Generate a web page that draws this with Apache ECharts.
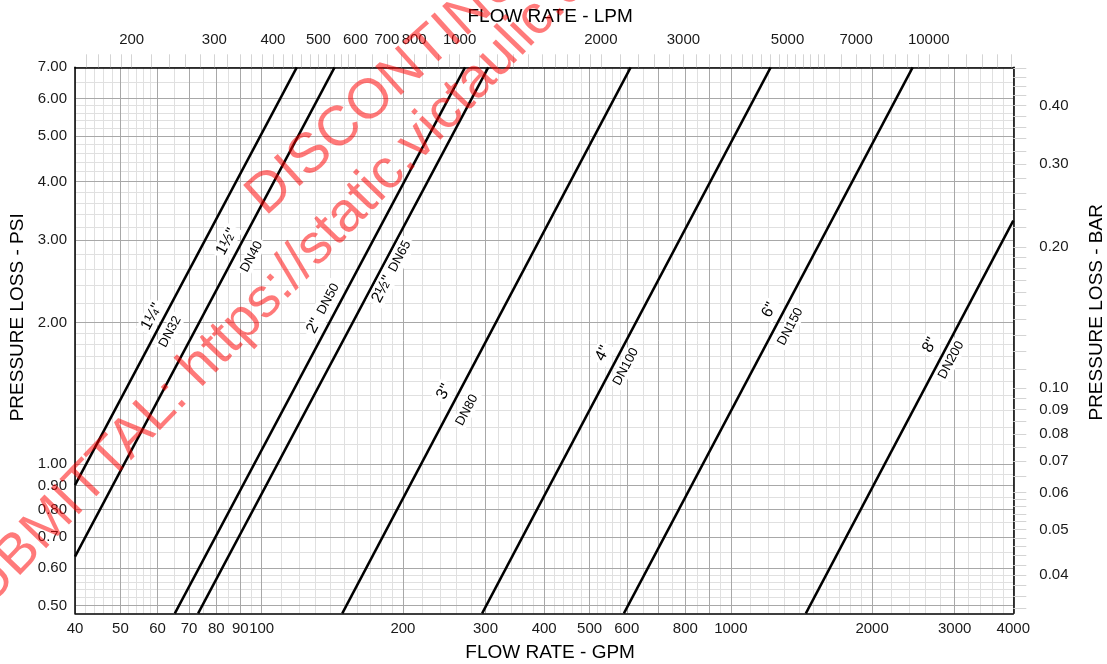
<!DOCTYPE html>
<html>
<head>
<meta charset="utf-8">
<script src="https://cdn.jsdelivr.net/npm/echarts@6/dist/echarts.min.js"></script>
<style>
html,body{margin:0;padding:0;background:#fff;}
#c{width:1107px;height:664px;}
</style>
</head>
<body>
<div id="c"></div>
<script>
// ---- data ----
const sizeLabels = ['1¼"', '1½"', '2"', '2½"', '3"', '4"', '6"', '8"'];
const dnLabels   = ['DN32', 'DN40', 'DN50', 'DN65', 'DN80', 'DN100', 'DN150', 'DN200'];
// each pipe size is a straight line on log-log paper: low end and high end (GPM, PSI)
const lowGpm  = [40, 40, 65.3, 73.2, 148.5, 295.0, 591.6, 1445];
const lowPsi  = [0.902, 0.635, 0.481, 0.481, 0.481, 0.481, 0.481, 0.481];
const highGpm = [118.8, 143.0, 271.3, 304.1, 611.6, 1216, 2441, 4000];
const highPsi = [7, 7, 7, 7, 7, 7, 7, 3.3];
// label anchors (GPM, PSI)
const sizeLabelAt = [[58.3, 2.060], [84.2, 2.976], [135.3, 2.146], [189.3, 2.569], [244.7, 1.426], [533.4, 1.721], [1208, 2.128], [2658, 1.793]];
const dnLabelAt   = [[63.8, 1.913], [95.2, 2.764], null, null, [273.9, 1.303], [597.1, 1.612], [1339, 1.961], [2948, 1.665]];

// axis ranges and tick labels
const gpmRange = [40, 4000];
const psiRange = [0.481, 7];
const gpmTickLabels = [40, 50, 60, 70, 80, 90, 100, 200, 300, 400, 500, 600, 800, 1000, 2000, 3000, 4000];
const lpmTickLabels = [200, 300, 400, 500, 600, 700, 800, 1000, 2000, 3000, 5000, 7000, 10000];
const psiTickLabels = [0.5, 0.6, 0.7, 0.8, 0.9, 1, 2, 3, 4, 5, 6, 7];
const barTickLabels = [0.04, 0.05, 0.06, 0.07, 0.08, 0.09, 0.1, 0.2, 0.3, 0.4];
const LPM_PER_GPM = 3.78541;
const BAR_PER_PSI = 0.0689476;

// ---- helpers ----
const L = Math.log10;
function logGrid(lo, hi) {
  const major = [], minor = [];
  const d0 = Math.floor(L(lo)), d1 = Math.ceil(L(hi));
  const rules = [[1, 2, 0.1], [2, 6, 0.2], [6, 10, 0.5]];
  for (let d = d0; d <= d1; d++) {
    const p = Math.pow(10, d);
    for (let n = 1; n <= 9; n++) major.push(+(n * p).toPrecision(8));
    rules.forEach(([a, b, s]) => {
      const k = Math.round((b - a) / s);
      for (let i = 1; i < k; i++) {
        const m = Math.round((a + i * s) * 10) / 10;
        if (Math.abs(m - Math.round(m)) < 1e-9) continue;
        minor.push(+(m * p).toPrecision(8));
      }
    });
  }
  const inR = v => v >= lo * (1 - 1e-12) && v <= hi * (1 + 1e-12);
  return { major: major.filter(inR), minor: minor.filter(inR) };
}
const toLog = arr => arr.map(v => L(v));

const gx = [L(gpmRange[0]), L(gpmRange[1])];
const lx = [L(gpmRange[0] * LPM_PER_GPM), L(gpmRange[1] * LPM_PER_GPM)];
const gy = [L(psiRange[0]), L(psiRange[1])];
const by = [L(psiRange[0] * BAR_PER_PSI), L(psiRange[1] * BAR_PER_PSI)];

const gpmGrid = logGrid(gpmRange[0], gpmRange[1]);
const psiGrid = logGrid(psiRange[0], psiRange[1]);
const lpmGrid = logGrid(gpmRange[0] * LPM_PER_GPM, gpmRange[1] * LPM_PER_GPM);
const barGrid = logGrid(psiRange[0] * BAR_PER_PSI, psiRange[1] * BAR_PER_PSI);

const FONT = '"Liberation Sans", Arial, sans-serif';
const MAJOR = '#a8a8a8';
const MINOR = '#e0e0e0';
const OUTTICK = '#d4d4d4';
const BORDER = { show: true, onZero: false, lineStyle: { color: '#000', width: 1.5 } };
const labelStyle = { fontSize: 15, color: '#1a1a1a', fontFamily: FONT };
const nameStyle = { fontSize: 19, color: '#000', fontFamily: FONT };

const fmtInt = v => String(Math.round(Math.pow(10, v)));
const fmt2 = v => (Math.pow(10, v)).toFixed(2);

// ---- series ----
const ROT = 62;
const series = sizeLabels.map((name, i) => {
  const mp = [];
  if (dnLabelAt[i]) {
    mp.push({ name: name, coord: sizeLabelAt[i], label: { formatter: name, fontSize: 16 } });
    mp.push({ name: dnLabels[i], coord: dnLabelAt[i], label: { formatter: dnLabels[i], fontSize: 13 } });
  } else {
    mp.push({
      name: name, coord: sizeLabelAt[i],
      label: { formatter: '{a|' + name + '}  {b|' + dnLabels[i] + '}' }
    });
  }
  return {
    type: 'line',
    name: name + ' ' + dnLabels[i],
    xAxisIndex: 0, yAxisIndex: 0,
    data: [[lowGpm[i], lowPsi[i]], [highGpm[i], highPsi[i]]],
    showSymbol: false, symbol: 'none',
    lineStyle: { color: '#000', width: 2.5 },
    z: 4, clip: true, silent: true,
    markPoint: {
      z: 6, silent: true,
      symbol: 'circle', symbolSize: 1,
      itemStyle: { color: 'rgba(0,0,0,0)' },
      label: {
        show: true, position: 'inside', rotate: ROT, color: '#000',
        fontFamily: FONT, backgroundColor: '#fff', padding: [1, 3],
        align: 'center', verticalAlign: 'middle',
        rich: { a: { fontSize: 16, fontFamily: FONT, color: '#000' }, b: { fontSize: 13, fontFamily: FONT, color: '#000' } }
      },
      data: mp
    }
  };
});

const option = {
  animation: false,
  backgroundColor: '#fff',
  textStyle: { fontFamily: FONT },
  grid: { left: 75, top: 67.3, width: 938.3, height: 546, containLabel: false, outerBoundsMode: 'none', show: false },
  xAxis: [
    { type: 'log', logBase: 10, min: gpmRange[0], max: gpmRange[1], show: false },
    { // minor vertical grid
      type: 'value', position: 'bottom', min: gx[0], max: gx[1], z: 0,
      axisLine: { show: false, onZero: false },
      axisTick: { show: false, customValues: toLog(gpmGrid.minor) },
      axisLabel: { show: false },
      splitLine: { show: true, customValues: toLog(gpmGrid.minor), lineStyle: { color: MINOR, width: 1 } }
    },
    { // major vertical grid + GPM labels
      type: 'value', position: 'bottom', min: gx[0], max: gx[1], z: 2,
      axisLine: BORDER,
      axisTick: { show: false, customValues: toLog(gpmGrid.major) },
      axisLabel: Object.assign({ customValues: toLog(gpmTickLabels), formatter: fmtInt, margin: 8 }, labelStyle),
      splitLine: { show: true, customValues: toLog(gpmGrid.major), lineStyle: { color: MAJOR, width: 1 } },
      name: 'FLOW RATE - GPM', nameLocation: 'middle', nameGap: 30,
      nameTextStyle: Object.assign({ padding: [0, 0, 0, 12] }, nameStyle)
    },
    { // LPM top axis
      type: 'value', position: 'top', min: lx[0], max: lx[1], z: 3,
      axisLine: BORDER,
      axisTick: { show: true, inside: false, length: 13, customValues: toLog(lpmGrid.major.concat(lpmGrid.minor)), lineStyle: { color: OUTTICK, width: 1 } },
      axisLabel: Object.assign({ customValues: toLog(lpmTickLabels), formatter: fmtInt, margin: 20 }, labelStyle),
      splitLine: { show: false },
      name: 'FLOW RATE - LPM', nameLocation: 'middle', nameGap: 41,
      nameTextStyle: Object.assign({ padding: [0, 0, 0, 12] }, nameStyle)
    }
  ],
  yAxis: [
    { type: 'log', logBase: 10, min: psiRange[0], max: psiRange[1], show: false },
    { // minor horizontal grid
      type: 'value', position: 'left', min: gy[0], max: gy[1], z: 0,
      axisLine: { show: false, onZero: false },
      axisTick: { show: false, customValues: toLog(psiGrid.minor) },
      axisLabel: { show: false },
      splitLine: { show: true, customValues: toLog(psiGrid.minor), lineStyle: { color: MINOR, width: 1 } }
    },
    { // major horizontal grid + PSI labels
      type: 'value', position: 'left', min: gy[0], max: gy[1], z: 2,
      axisLine: BORDER,
      axisTick: { show: false, customValues: toLog(psiGrid.major) },
      axisLabel: Object.assign({ customValues: toLog(psiTickLabels), formatter: fmt2, margin: 8 }, labelStyle),
      splitLine: { show: true, customValues: toLog(psiGrid.major), lineStyle: { color: MAJOR, width: 1 } },
      name: 'PRESSURE LOSS - PSI', nameLocation: 'middle', nameGap: 47,
      nameTextStyle: Object.assign({ padding: [0, 0, 0, 46] }, nameStyle)
    },
    { // BAR right axis
      type: 'value', position: 'right', min: by[0], max: by[1], z: 3,
      axisLine: BORDER,
      axisTick: { show: true, inside: false, length: 13, customValues: toLog(barGrid.major.concat(barGrid.minor)), lineStyle: { color: OUTTICK, width: 1 } },
      axisLabel: Object.assign({ customValues: toLog(barTickLabels), formatter: fmt2, margin: 26 }, labelStyle),
      splitLine: { show: false },
      name: 'PRESSURE LOSS - BAR', nameLocation: 'middle', nameGap: 74,
      nameTextStyle: Object.assign({ padding: [0, 0, 0, 56] }, nameStyle)
    }
  ],
  series: series,
  graphic: {
    elements: [
      {
        type: 'text', x: 274, y: 226, rotation: 42 * Math.PI / 180, z: 100, silent: true,
        style: { text: 'DISCONTINUED', fontSize: 56, fontFamily: FONT, fill: 'rgba(255,0,0,0.52)', align: 'left', verticalAlign: 'bottom' }
      },
      {
        type: 'text', x: -28, y: 643, rotation: 46 * Math.PI / 180, z: 100, silent: true,
        style: { text: 'SUBMITTAL: https://static.victaulic.com', fontSize: 56, fontFamily: FONT, fill: 'rgba(255,0,0,0.52)', align: 'left', verticalAlign: 'bottom' }
      }
    ]
  }
};

const chart = echarts.init(document.getElementById('c'));
chart.setOption(option);
</script>
</body>
</html>
